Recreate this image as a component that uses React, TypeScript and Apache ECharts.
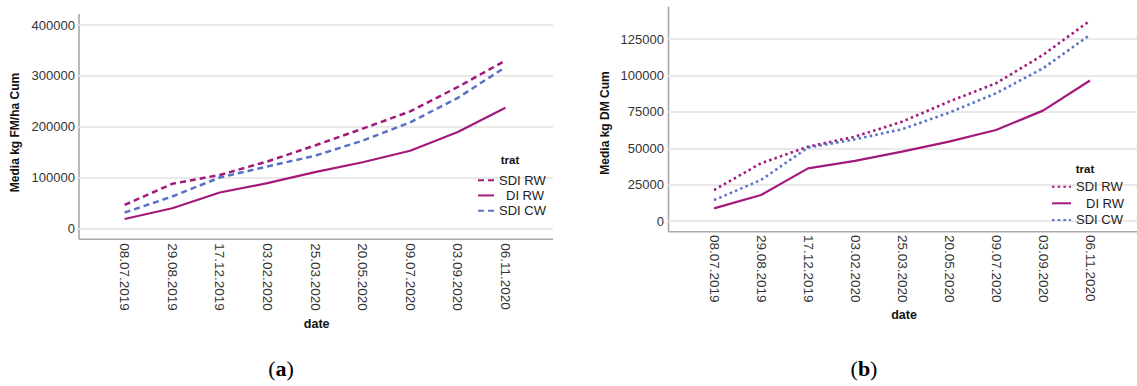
import React, { useEffect, useRef } from "react";
import * as echarts from "echarts";

const dateLabels = [
  "08.07.2019",
  "29.08.2019",
  "17.12.2019",
  "03.02.2020",
  "25.03.2020",
  "20.05.2020",
  "09.07.2020",
  "03.09.2020",
  "06.11.2020",
];
const treatments = ["SDI RW", "DI RW", "SDI CW"];

// (a) Media kg FM/ha Cum
const fmSdiRw = [46000, 87500, 105000, 131500, 163000, 196000, 230000, 278000, 330000];
const fmDiRw = [18400, 39500, 70400, 88800, 110500, 130000, 152600, 189500, 237000];
const fmSdiCw = [31000, 62500, 100000, 121700, 142800, 172400, 208500, 256600, 317000];

// (b) Media kg DM Cum
const dmSdiRw = [21300, 39700, 51100, 58000, 68300, 82100, 94700, 114200, 137800];
const dmDiRw = [8700, 17900, 36200, 41300, 47700, 54600, 62600, 75900, 96600];
const dmSdiCw = [14400, 28200, 50500, 56200, 63100, 74500, 87800, 105000, 128000];

const MAGENTA = "#a3197b";
const BLUE = "#5872c4";
const AXIS = "#a9a9a9";
const GRIDLINE = "#e2e2e2";
const FONT = "Liberation Sans, Arial, sans-serif";

const pairs = (vals: number[]) => vals.map((v, i) => [i, v]);

const xLabel = (v: number) => {
  if (!Number.isInteger(v)) return "";
  return v >= 0 && v < dateLabels.length ? dateLabels[v] : "";
};
const yLabel = (v: number) => String(v);

export default function App() {
  const ref = useRef<HTMLDivElement>(null);
  useEffect(() => {
    if (!ref.current) return;
    const chart = echarts.init(ref.current, undefined, { renderer: "svg" });

    const mkX = (gridIndex: number, margin: number) => ({
      type: "value",
      gridIndex,
      min: -1,
      max: 9,
      interval: 1,
      axisLine: { show: false },
      axisTick: { show: false },
      splitLine: { show: false },
      axisLabel: {
        rotate: -90,
        margin,
        fontSize: 13.5,
        color: "#333",
        fontFamily: FONT,
        formatter: xLabel,
        showMinLabel: true,
        showMaxLabel: true,
      },
    });

    const mkSeries = (
      prefix: string,
      idx: number,
      data: number[][],
      color: string,
      type: any,
      width: number
    ) => ({
      type: "line",
      name: prefix + ":" + treatments[idx],
      xAxisIndex: prefix === "a" ? 0 : 1,
      yAxisIndex: prefix === "a" ? 0 : 1,
      data,
      symbol: "none",
      showSymbol: false,
      smooth: false,
      lineStyle: { color, width, type },
      itemStyle: { color },
      emphasis: { disabled: true },
    });

    const legendRich = (lh: number, pad: number) => ({
      ind: { padding: [0, 0, 0, pad], fontSize: 13, lineHeight: lh, fontFamily: FONT, color: "#222" },
    });

    const legendFormatter = (name: string) => {
      const base = name.split(":")[1];
      return base === "DI RW" ? "{ind|DI RW}" : base;
    };

    const dashA = [6, 4];
    const dotB = [2.5, 3.2];

    const legendBase = {
      orient: "vertical",
      padding: 0,
      itemHeight: 10,
      itemGap: 0,
      selectedMode: false,
      formatter: legendFormatter,
      itemStyle: { color: "transparent", borderColor: "transparent", borderWidth: 0, opacity: 0 },
    };

    const option: any = {
      animation: false,
      textStyle: { fontFamily: FONT },
      grid: [
        { left: 77, top: 25, width: 476, height: 203.3 },
        { left: 667, top: 2.9, width: 475, height: 218.1 },
      ],
      xAxis: [mkX(0, 15), mkX(1, 14)],
      yAxis: [
        {
          type: "value",
          gridIndex: 0,
          min: 0,
          max: 400000,
          interval: 100000,
          axisLine: { show: false },
          axisTick: { show: false },
          splitLine: { show: true, lineStyle: { color: GRIDLINE, width: 1.5 } },
          axisLabel: { margin: 2, fontSize: 13, color: "#333", fontFamily: FONT, formatter: yLabel },
        },
        {
          type: "value",
          gridIndex: 1,
          min: 0,
          max: 150000,
          interval: 25000,
          axisLine: { show: false },
          axisTick: { show: false },
          splitLine: {
            show: true,
            showMaxLine: false,
            lineStyle: { color: GRIDLINE, width: 1.5 },
          },
          axisLabel: {
            margin: 3,
            fontSize: 13,
            color: "#333",
            fontFamily: FONT,
            showMaxLabel: false,
            formatter: yLabel,
          },
        },
      ],
      legend: [
        {
          ...legendBase,
          left: 477,
          top: 172.5,
          itemWidth: 16,
          data: treatments.map((t) => "a:" + t),
          textStyle: {
            fontSize: 13,
            lineHeight: 15.3,
            color: "#222",
            fontFamily: FONT,
            rich: legendRich(15.3, 7),
          },
        },
        {
          ...legendBase,
          left: 1051,
          top: 178.4,
          itemWidth: 19,
          data: treatments.map((t) => "b:" + t),
          textStyle: {
            fontSize: 13,
            lineHeight: 16.6,
            color: "#222",
            fontFamily: FONT,
            rich: legendRich(16.6, 10),
          },
        },
      ],
      series: [
        mkSeries("a", 0, pairs(fmSdiRw), MAGENTA, dashA, 2.5),
        mkSeries("a", 1, pairs(fmDiRw), MAGENTA, "solid", 2.2),
        mkSeries("a", 2, pairs(fmSdiCw), BLUE, dashA, 2.5),
        mkSeries("b", 0, pairs(dmSdiRw), MAGENTA, dotB, 2.6),
        mkSeries("b", 1, pairs(dmDiRw), MAGENTA, "solid", 2.2),
        mkSeries("b", 2, pairs(dmSdiCw), BLUE, dotB, 2.6),
      ],
      graphic: [
        { type: "line", shape: { x1: 79, y1: 14, x2: 79, y2: 239.3 }, style: { stroke: AXIS, lineWidth: 1.6 } },
        { type: "line", shape: { x1: 79, y1: 239.3, x2: 553, y2: 239.3 }, style: { stroke: AXIS, lineWidth: 1.6 } },
        { type: "line", shape: { x1: 668.5, y1: 6.7, x2: 668.5, y2: 231.7 }, style: { stroke: AXIS, lineWidth: 1.6 } },
        { type: "line", shape: { x1: 668.5, y1: 231.7, x2: 1137, y2: 231.7 }, style: { stroke: AXIS, lineWidth: 1.6 } },
        {
          type: "text",
          x: 15,
          y: 132.5,
          rotation: Math.PI / 2,
          style: {
            text: "Media kg FM/ha Cum",
            fontSize: 12,
            fontWeight: "bold",
            fontFamily: FONT,
            fill: "#111",
            textAlign: "center",
            textVerticalAlign: "middle",
          },
        },
        {
          type: "text",
          x: 605,
          y: 123,
          rotation: Math.PI / 2,
          style: {
            text: "Media kg DM Cum",
            fontSize: 12,
            fontWeight: "bold",
            fontFamily: FONT,
            fill: "#111",
            textAlign: "center",
            textVerticalAlign: "middle",
          },
        },
        {
          type: "text",
          x: 316.7,
          y: 324,
          style: {
            text: "date",
            fontSize: 12.5,
            fontWeight: "bold",
            fontFamily: FONT,
            fill: "#111",
            textAlign: "center",
            textVerticalAlign: "middle",
          },
        },
        {
          type: "text",
          x: 904,
          y: 315,
          style: {
            text: "date",
            fontSize: 12.5,
            fontWeight: "bold",
            fontFamily: FONT,
            fill: "#111",
            textAlign: "center",
            textVerticalAlign: "middle",
          },
        },
        {
          type: "text",
          x: 510,
          y: 159.5,
          style: {
            text: "trat",
            fontSize: 11.5,
            fontWeight: "bold",
            fontFamily: FONT,
            fill: "#111",
            textAlign: "center",
            textVerticalAlign: "middle",
          },
        },
        {
          type: "text",
          x: 1085,
          y: 169,
          style: {
            text: "trat",
            fontSize: 11.5,
            fontWeight: "bold",
            fontFamily: FONT,
            fill: "#111",
            textAlign: "center",
            textVerticalAlign: "middle",
          },
        },
        {
          type: "text",
          x: 281,
          y: 368,
          style: {
            text: "{p|(}{b|a}{p|)}",
            textAlign: "center",
            textVerticalAlign: "middle",
            rich: {
              p: { fontSize: 22, fontFamily: "Liberation Serif, serif", fill: "#000" },
              b: { fontSize: 22, fontFamily: "Liberation Serif, serif", fontWeight: "bold", fill: "#000" },
            },
          },
        },
        {
          type: "text",
          x: 864,
          y: 368,
          style: {
            text: "{p|(}{b|b}{p|)}",
            textAlign: "center",
            textVerticalAlign: "middle",
            rich: {
              p: { fontSize: 22, fontFamily: "Liberation Serif, serif", fill: "#000" },
              b: { fontSize: 22, fontFamily: "Liberation Serif, serif", fontWeight: "bold", fill: "#000" },
            },
          },
        },
      ],
    };

    chart.setOption(option);
    return () => chart.dispose();
  }, []);

  return (
    <div
      ref={ref}
      style={{
        position: "absolute",
        left: 0,
        top: 0,
        width: 1137,
        height: 386,
        background: "#fff",
        overflow: "hidden",
      }}
    />
  );
}
